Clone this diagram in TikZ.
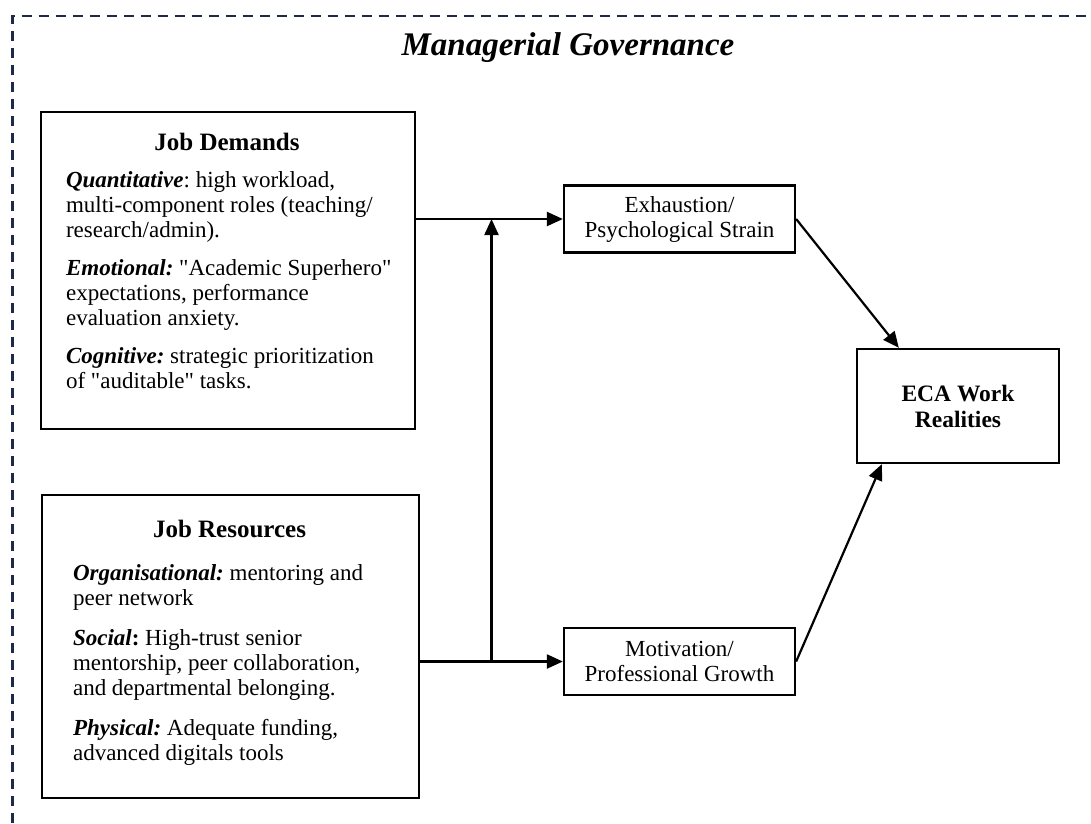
\documentclass[tikz,border=0pt]{standalone}
\usepackage{fontspec}
\setmainfont{Liberation Serif}[Ligatures=TeXOff]
\usetikzlibrary{arrows.meta,calc}
\definecolor{framenavy}{HTML}{1E2A48}
\frenchspacing

\begin{document}
\begin{tikzpicture}[x=1pt,y=-1pt,
  panel/.style={draw,line width=2.3pt,inner sep=0pt},
  paneltext/.style={inner sep=0pt,align=left,font=\fontsize{23}{25}\selectfont},
  stage/.style={draw,line width=2.3pt,inner sep=0pt,align=center,
    minimum width=231pt,minimum height=67pt,font=\fontsize{23}{25}\selectfont},
  link/.style={line width=2.2pt,-{Triangle[length=16pt,width=14pt]}},
  wire/.style={line width=2.2pt}]
\useasboundingbox (0,0) rectangle (1091,823);

\draw [framenavy,line width=2.5pt,dash pattern=on 10pt off 7pt] (12.5,840) -- (12.5,16) -- (1110,16);
\node [font=\fontsize{33}{36}\selectfont\bfseries\itshape,anchor=base,inner sep=0pt] (gov) at (568,55) {Managerial Governance};

\node [panel,minimum width=374pt,minimum height=317pt] (demands) at (228,270.5) {};
\node [paneltext,anchor=north west] (demandstext) at ([xshift=26pt,yshift=-22pt]demands.north west) {%
\makebox[322pt]{\fontsize{25}{25}\selectfont\bfseries Job Demands}\\[12pt]
\textbf{\textit{Quantitative}}: high workload,\\
multi-component roles (teaching/\\
research/admin).\\[13pt]
\textbf{\textit{Emotional:}} "Academic Superhero"\\
expectations, performance\\
evaluation anxiety.\\[13pt]
\textbf{\textit{Cognitive:}} strategic prioritization\\
of "auditable" tasks.};

\node [panel,minimum width=377pt,minimum height=303pt] (resources) at (230.5,646.5) {};
\node [paneltext,anchor=north west] (resourcestext) at ([xshift=32pt,yshift=-26pt]resources.north west) {%
\makebox[313pt]{\fontsize{25}{25}\selectfont\bfseries Job Resources}\\[18pt]
\textbf{\textit{Organisational:}} mentoring and\\
peer network\\[15pt]
\textbf{\textit{Social}:} High-trust senior\\
mentorship, peer collaboration,\\
and departmental belonging.\\[15pt]
\textbf{\textit{Physical:}} Adequate funding,\\
advanced digitals tools};

\node [stage] (exh) at (679.5,219) {Exhaustion/\\Psychological Strain};
\node [stage] (mot) at (679.5,661.5) {Motivation/\\Professional Growth};
\node [stage,minimum width=202pt,minimum height=114pt,font=\fontsize{23.5}{26}\selectfont\bfseries] (eca) at (958,406) {ECA Work\\Realities};

\coordinate (jd) at ($(resources.east |- mot.west)!0.5!(mot.west)$);
\draw [link] (demands.east |- exh.west) -- (exh.west);
\draw [link] (resources.east |- mot.west) -- (mot.west);
\draw [wire] (jd) -- (jd |- mot.west);
\draw [link] (jd) -- (jd |- exh.west);
\draw [link] (exh.east) -- ([xshift=43pt]eca.north west);
\draw [link] (mot.east) -- ([xshift=26pt]eca.south west);
\end{tikzpicture}
\end{document}
